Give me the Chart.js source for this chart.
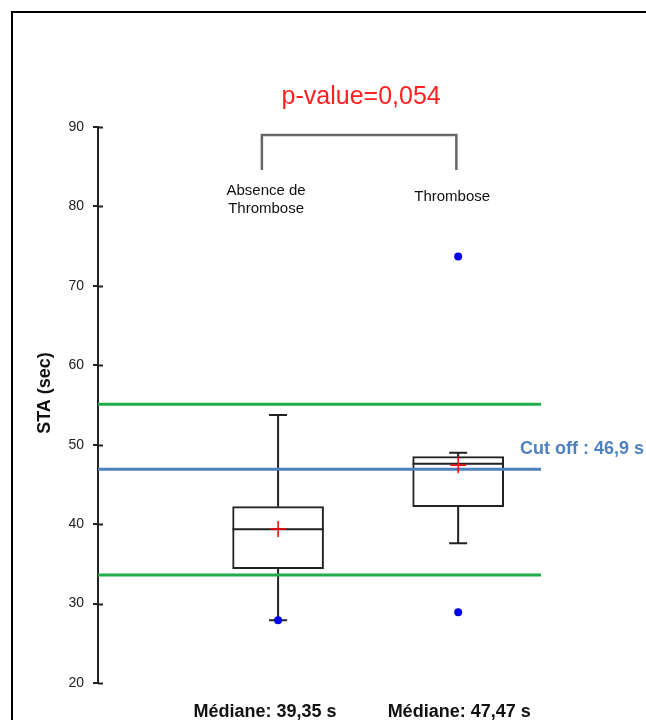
<!DOCTYPE html>
<html>
<head>
<meta charset="utf-8">
<script src="https://cdn.jsdelivr.net/npm/chart.js@4/dist/chart.umd.min.js"></script>
<style>
  html, body { margin: 0; padding: 0; background: #fff; overflow: hidden; }
  #frame { position: absolute; left: 11px; top: 11px; width: 700px; height: 800px; border: 2px solid #000; }
  #c { position: absolute; left: 0; top: 0; }
</style>
</head>
<body>
<div id="frame"></div>
<canvas id="c" width="646" height="720"></canvas>
<script>
// groups and box statistics (seconds)
var groups = ['Absence de\nThrombose', 'Thrombose'];
var groupX = [1, 2];
var q1 = [34.4, 42.2];
var q3 = [42.2, 48.5];
var medians = [39.35, 47.6];
var means = [39.4, 47.4];
var whiskerMin = [27.9, 37.6];
var whiskerMax = [53.75, 49.0];
var minPoints = [[1, 27.9], [2, 28.9]];
var outliers = [[2, 73.7]];
var medianLabels = ['Médiane: 39,35 s', 'Médiane: 47,47 s'];

// reference lines
var cutOff = 46.9;
var greenLines = [55.1, 33.6];
var yTicks = [20, 30, 40, 50, 60, 70, 80, 90];

// comparison bracket
var bracketX = [0.91, 1.99];
var bracketY = [84.6, 89.0];
var pValueText = 'p-value=0,054';

var xMin = 0, xMax = 2.46;
var boxHalf = 0.253, capHalf = 0.05;
var FONT = '"Liberation Sans", Arial, sans-serif';

function whiskerData() {
  var pts = [];
  groupX.forEach(function(x, i) {
    pts.push({x: x, y: q3[i]}, {x: x, y: whiskerMax[i]}, {x: x, y: null});
    pts.push({x: x, y: q1[i]}, {x: x, y: whiskerMin[i]}, {x: x, y: null});
    pts.push({x: x - capHalf, y: whiskerMax[i]}, {x: x + capHalf, y: whiskerMax[i]}, {x: x, y: null});
    pts.push({x: x - capHalf, y: whiskerMin[i]}, {x: x + capHalf, y: whiskerMin[i]}, {x: x, y: null});
    pts.push({x: x - boxHalf, y: medians[i]}, {x: x + boxHalf, y: medians[i]}, {x: x, y: null});
  });
  return pts;
}

function hLine(v) { return [{x: xMin, y: v}, {x: xMax, y: v}]; }

var textPlugin = {
  id: 'texts',
  afterDraw: function(chart) {
    var ctx = chart.ctx, xs = chart.scales.x, ys = chart.scales.y;
    ctx.save();
    // extra tick marks on the right of the axis
    ctx.strokeStyle = '#222'; ctx.lineWidth = 2;
    yTicks.forEach(function(t) {
      var py = Math.round(ys.getPixelForValue(t)) + 0.5;
      ctx.beginPath(); ctx.moveTo(chart.chartArea.left, py); ctx.lineTo(chart.chartArea.left + 5, py); ctx.stroke();
    });
    // y title
    ctx.fillStyle = '#111';
    ctx.font = 'bold 18px ' + FONT;
    ctx.textAlign = 'center'; ctx.textBaseline = 'middle';
    ctx.save(); ctx.translate(45, 393); ctx.rotate(-Math.PI / 2); ctx.fillText('STA (sec)', 0, 0); ctx.restore();
    // p-value
    ctx.fillStyle = '#ff2020';
    ctx.font = '25px ' + FONT;
    ctx.textBaseline = 'alphabetic';
    ctx.fillText(pValueText, (xs.getPixelForValue(bracketX[0]) + xs.getPixelForValue(bracketX[1])) / 2 + 2, 104);
    // group labels
    ctx.fillStyle = '#111';
    ctx.font = '15px ' + FONT;
    ctx.textBaseline = 'middle';
    groups.forEach(function(g, i) {
      var lines = g.split('\n');
      var cx = xs.getPixelForValue(groupX[i]) + (i === 0 ? -12 : -6);
      var y0 = lines.length > 1 ? 191 : 197;
      lines.forEach(function(l, k) { ctx.fillText(l, cx, y0 + k * 18); });
    });
    // cut off label
    ctx.fillStyle = '#4f81bd';
    ctx.font = 'bold 18px ' + FONT;
    ctx.textAlign = 'left';
    ctx.fillText('Cut off : 46,9 s', chart.chartArea.right - 21, ys.getPixelForValue(cutOff) - 20);
    // median labels
    ctx.fillStyle = '#111';
    ctx.font = 'bold 18px ' + FONT;
    ctx.textAlign = 'center';
    medianLabels.forEach(function(t, i) {
      ctx.fillText(t, xs.getPixelForValue(groupX[i]) + (i === 0 ? -13 : 1), 712);
    });
    ctx.restore();
  }
};

new Chart(document.getElementById('c'), {
  type: 'bar',
  data: {
    datasets: [
      {
        type: 'line', label: 'green', order: 1,
        data: hLine(greenLines[0]), borderColor: '#1fae4a', borderWidth: 3, pointRadius: 0
      },
      {
        type: 'line', label: 'green2', order: 1,
        data: hLine(greenLines[1]), borderColor: '#1fae4a', borderWidth: 3, pointRadius: 0
      },
      {
        type: 'line', label: 'cutoff', order: 1,
        data: hLine(cutOff), borderColor: '#4f81bd', borderWidth: 3, pointRadius: 0
      },
      {
        type: 'scatter', label: 'means', order: 0,
        data: groupX.map(function(x, i) { return {x: x, y: means[i]}; }),
        pointStyle: 'cross', pointRadius: 8, borderColor: '#ff0000', borderWidth: 1.5, backgroundColor: '#ff0000'
      },
      {
        type: 'scatter', label: 'points', order: 0,
        data: minPoints.concat(outliers).map(function(p) { return {x: p[0], y: p[1]}; }),
        pointStyle: 'circle', pointRadius: 4, borderColor: '#0000ee', borderWidth: 0, backgroundColor: '#0000ee'
      },
      {
        type: 'line', label: 'whiskers', order: 2,
        data: whiskerData(), borderColor: '#222', borderWidth: 2, pointRadius: 0, spanGaps: false
      },
      {
        type: 'line', label: 'bracket', order: 2,
        data: [{x: bracketX[0], y: bracketY[0]}, {x: bracketX[0], y: bracketY[1]},
               {x: bracketX[1], y: bracketY[1]}, {x: bracketX[1], y: bracketY[0]}],
        borderColor: '#666', borderWidth: 2.5, pointRadius: 0
      },
      {
        type: 'bar', label: 'boxes', order: 3,
        data: groupX.map(function(x, i) { return {x: x, y: [q1[i], q3[i]]}; }),
        backgroundColor: '#ffffff', borderColor: '#222', borderWidth: 2,
        borderSkipped: false, barThickness: 91
      }
    ]
  },
  options: {
    responsive: false,
    animation: false,
    layout: { padding: { top: 127, bottom: 37, right: 105, left: 0 } },
    plugins: { legend: { display: false }, tooltip: { enabled: false } },
    elements: { line: { tension: 0 } },
    scales: {
      x: { type: 'linear', min: xMin, max: xMax, display: false, offset: false },
      y: {
        min: 20, max: 90,
        afterFit: function(s) { s.width = 98; },
        afterBuildTicks: function(s) { s.ticks = yTicks.map(function(v) { return {value: v}; }); },
        ticks: { color: '#222', padding: 9, font: { size: 14, family: FONT } },
        grid: { drawOnChartArea: false, tickLength: 5, color: '#222', lineWidth: 2 },
        border: { display: true, color: '#222', width: 2 }
      }
    }
  },
  plugins: [textPlugin]
});
</script>
</body>
</html>
